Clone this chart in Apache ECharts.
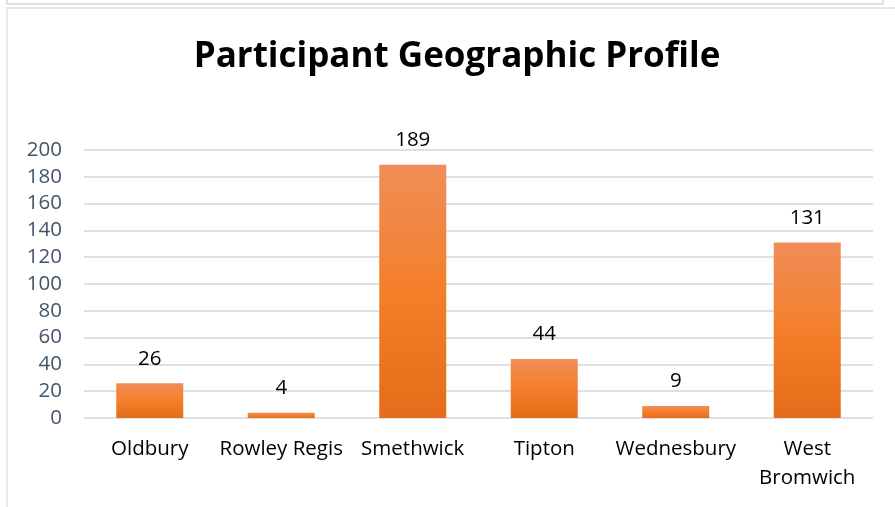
<!DOCTYPE html>
<html>
<head>
<meta charset="utf-8">
<script src="https://cdn.jsdelivr.net/npm/echarts@6/dist/echarts.min.js"></script>
<style>
  html, body { margin: 0; padding: 0; background: #fff; }
  #chart { width: 895px; height: 507px; }
</style>
</head>
<body>
<div id="chart"></div>
<script>
// 数据
const categories = ["Oldbury", "Rowley Regis", "Smethwick", "Tipton", "Wednesbury", "West\nBromwich"];
const participants = [26, 4, 189, 44, 9, 131];
const yTicks = { min: 0, max: 200, interval: 20 };

const font = "Open Sans";

let myChart = echarts.init(document.getElementById("chart"));
myChart.setOption({
  backgroundColor: "#fff",
  animation: false,
  title: {
    text: "Participant Geographic Profile",
    left: 452,
    textAlign: "center",
    top: 35,
    textStyle: {
      fontFamily: font,
      fontSize: 35,
      fontWeight: "bold",
      color: "#000",
    },
  },
  // 外框
  graphic: [
    {
      type: "rect",
      shape: { x: 7, y: -10, width: 876, height: 14 },
      style: { fill: "none", stroke: "#d9d9d9", lineWidth: 1.5 },
      silent: true,
    },
    {
      type: "rect",
      shape: { x: 7, y: 8, width: 900, height: 520 },
      style: { fill: "none", stroke: "#dfe3e8", lineWidth: 1.5 },
      silent: true,
    },
  ],
  grid: {
    left: 84,
    right: 22,
    top: 150,
    bottom: 89,
  },
  xAxis: {
    type: "category",
    data: categories,
    axisLine: { show: false },
    axisTick: { show: false },
    axisLabel: {
      margin: 17,
      interval: 0,
      fontFamily: font,
      fontSize: 20.5,
      lineHeight: 29,
      color: "#000",
    },
  },
  yAxis: {
    type: "value",
    min: yTicks.min,
    max: yTicks.max,
    interval: yTicks.interval,
    axisLine: { show: false },
    axisTick: { show: false },
    axisLabel: {
      margin: 22,
      fontFamily: font,
      fontSize: 20.5,
      color: "#44546A",
    },
    splitLine: {
      lineStyle: { color: "#dde1e6", width: 2 },
    },
  },
  series: [
    {
      type: "bar",
      data: participants,
      barWidth: 67,
      itemStyle: {
        color: new echarts.graphic.LinearGradient(0, 0, 0, 1, [
          { offset: 0, color: "#f08d58" },
          { offset: 0.5, color: "#f47f2a" },
          { offset: 1, color: "#e46c1a" },
        ]),
      },
      label: {
        show: true,
        position: "top",
        distance: 14,
        fontFamily: font,
        fontSize: 20.5,
        color: "#000",
      },
    },
  ],
});
</script>
</body>
</html>
